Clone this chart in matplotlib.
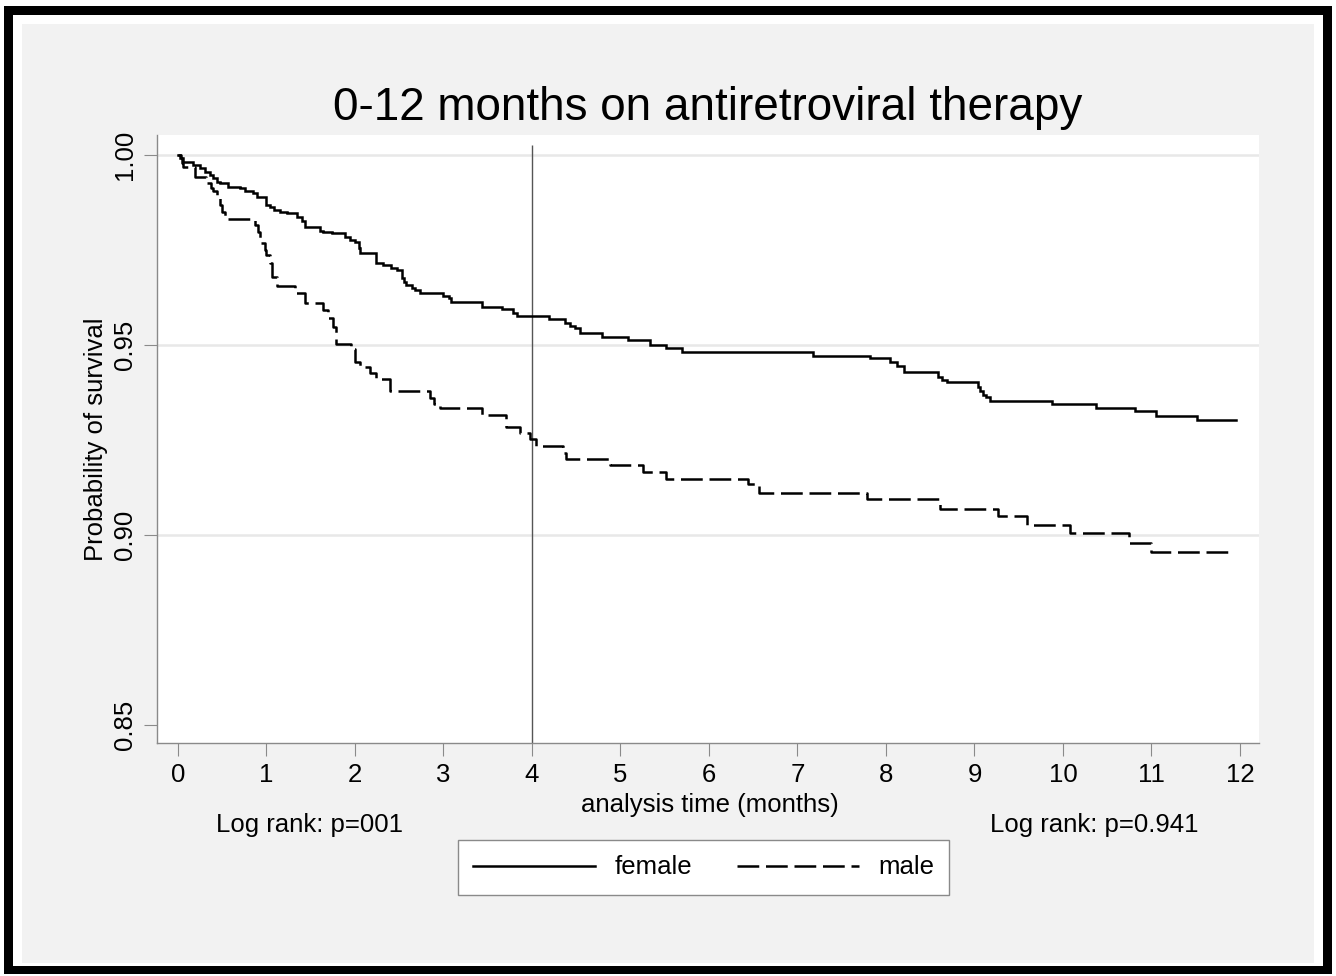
import matplotlib
matplotlib.use("Agg")
import matplotlib.pyplot as plt
from matplotlib.patches import Rectangle

# ---- data ----
female_t = [0.00, 0.02, 0.06, 0.17, 0.25, 0.30, 0.36, 0.40, 0.44, 0.48, 0.57, 0.70, 0.76, 0.85, 0.89,
            1.00, 1.04, 1.08, 1.15, 1.23, 1.34, 1.40, 1.44, 1.61, 1.64, 1.74, 1.89, 1.94, 2.00, 2.04,
            2.06, 2.24, 2.32, 2.41, 2.47, 2.53, 2.55, 2.58, 2.64, 2.68, 2.73, 3.00, 3.06, 3.09, 3.43,
            3.66, 3.79, 3.83, 4.19, 4.37, 4.43, 4.49, 4.54, 4.79, 5.09, 5.33, 5.52, 5.69, 7.18, 7.82,
            8.05, 8.12, 8.20, 8.59, 8.63, 8.69, 9.04, 9.06, 9.10, 9.13, 9.18, 9.88, 10.37, 10.81,
            11.05, 11.51]
female_s = [1.0000, 0.9991, 0.9982, 0.9974, 0.9965, 0.9956, 0.9947, 0.9939, 0.9930, 0.9925, 0.9917,
            0.9912, 0.9904, 0.9899, 0.9890, 0.9868, 0.9864, 0.9855, 0.9851, 0.9847, 0.9838, 0.9827,
            0.9811, 0.9801, 0.9798, 0.9794, 0.9785, 0.9776, 0.9772, 0.9754, 0.9741, 0.9717, 0.9711,
            0.9702, 0.9697, 0.9675, 0.9667, 0.9658, 0.9649, 0.9645, 0.9636, 0.9629, 0.9623, 0.9614,
            0.9601, 0.9595, 0.9583, 0.9575, 0.9568, 0.9559, 0.9551, 0.9544, 0.9531, 0.9522, 0.9513,
            0.9500, 0.9491, 0.9482, 0.9471, 0.9465, 0.9456, 0.9445, 0.9430, 0.9417, 0.9408, 0.9402,
            0.9390, 0.9380, 0.9368, 0.9364, 0.9353, 0.9345, 0.9333, 0.9325, 0.9313, 0.9303]
female_end = 11.95

male_t = [0.00, 0.03, 0.05, 0.06, 0.19, 0.32, 0.37, 0.40, 0.44, 0.48, 0.50, 0.53, 0.87, 0.90, 0.93,
          0.98, 1.00, 1.04, 1.06, 1.12, 1.32, 1.44, 1.64, 1.70, 1.75, 1.79, 1.95, 2.00, 2.06, 2.17,
          2.24, 2.40, 2.85, 2.89, 2.96, 3.43, 3.71, 3.86, 3.98, 4.05, 4.35, 4.39, 4.88, 5.26, 5.52,
          6.44, 6.56, 7.78, 8.61, 9.27, 9.59, 10.08, 10.75, 11.00]
male_s = [1.0000, 0.9991, 0.9980, 0.9969, 0.9943, 0.9925, 0.9912, 0.9904, 0.9890, 0.9868, 0.9851,
          0.9831, 0.9815, 0.9798, 0.9768, 0.9750, 0.9737, 0.9715, 0.9680, 0.9654, 0.9638, 0.9610,
          0.9592, 0.9570, 0.9548, 0.9503, 0.9489, 0.9456, 0.9441, 0.9425, 0.9410, 0.9379, 0.9360,
          0.9345, 0.9333, 0.9316, 0.9283, 0.9268, 0.9252, 0.9235, 0.9215, 0.9199, 0.9184, 0.9167,
          0.9147, 0.9135, 0.9111, 0.9094, 0.9068, 0.9050, 0.9026, 0.9004, 0.8978, 0.8956]
male_end = 11.89

x_ticks = list(range(0, 13))
y_ticks = [0.85, 0.90, 0.95, 1.00]
y_ticklabels = ["0.85", "0.90", "0.95", "1.00"]
grid_vals = [0.90, 0.95, 1.00]
marker_time = 4

title = "0-12 months on antiretroviral therapy"
xlabel = "analysis time (months)"
ylabel = "Probability of survival"
note_left = "Log rank: p=001"
note_right = "Log rank: p=0.941"
series_names = ["female", "male"]

# ---- layout ----
W, H = 1336, 976
plt.rcParams["font.family"] = ["Liberation Sans", "DejaVu Sans"]
FS = 18.5

fig = plt.figure(figsize=(W / 100, H / 100), dpi=100, facecolor="white")


def fx(px):
    return px / W


def fy(py):
    return 1 - py / H


def frect(x0, y0, x1, y1, color):
    fig.patches.append(Rectangle((fx(x0), fy(y1)), fx(x1) - fx(x0), fy(y0) - fy(y1),
                                 transform=fig.transFigure, facecolor=color,
                                 edgecolor="none", zorder=-10))


frect(4, 6, 1332, 974, "black")
frect(13, 15, 1323, 966, "white")
frect(22, 24, 1314, 963, "#f2f2f2")

L, R, T, B = 157, 1259, 135, 743
ax = fig.add_axes([fx(L), fy(B), fx(R) - fx(L), fy(T) - fy(B)])
ax.set_facecolor("white")
ax.set_xlim(-0.237, 12.215)
ax.set_ylim(0.84526, 1.00526)

for s in ["top", "right"]:
    ax.spines[s].set_visible(False)
for s in ["left", "bottom"]:
    ax.spines[s].set_color("#8a8a8a")
    ax.spines[s].set_linewidth(1.0)

for g in grid_vals:
    ax.axhline(g, color="#e8e8e8", lw=1.8, zorder=0)

ax.vlines(marker_time, ax.get_ylim()[0], 1.0026, color="#555555", lw=1.0, zorder=1)

lw = 1.8
ft = female_t + [female_end]
fs_ = female_s + [female_s[-1]]
mt = male_t + [male_end]
ms_ = male_s + [male_s[-1]]
l1, = ax.step(ft, fs_, where="post", color="black", lw=lw, solid_joinstyle="miter",
              label=series_names[0], zorder=3)
l2, = ax.step(mt, ms_, where="post", color="black", lw=lw, label=series_names[1],
              dashes=(8.7, 2.7), zorder=3)

ax.set_xticks(x_ticks)
ax.set_xticklabels([str(v) for v in x_ticks])
ax.set_yticks(y_ticks)
ax.set_yticklabels(y_ticklabels, rotation=90, va="center")
ax.tick_params(axis="both", direction="out", length=9.4, width=0.8, color="#8a8a8a",
               labelsize=FS, labelcolor="black")
ax.tick_params(axis="x", pad=5)
ax.tick_params(axis="y", pad=5)

fig.text(fx(708), fy(120), title, ha="center", va="baseline", fontsize=33)
fig.text(fx(710), fy(812), xlabel, ha="center", va="baseline", fontsize=FS)
fig.text(fx(96), fy(439), ylabel, ha="center", va="center", rotation=90, fontsize=FS)
fig.text(fx(309), fy(832), note_left, ha="center", va="baseline", fontsize=FS)
fig.text(fx(1094), fy(832), note_right, ha="center", va="baseline", fontsize=FS)

leg = fig.legend(handles=[l1, l2], labels=series_names, loc="center",
                 bbox_to_anchor=(fx(703.5), fy(867.5)), ncol=2, fontsize=FS,
                 handlelength=4.75, handletextpad=0.74, columnspacing=1.75,
                 borderpad=0.6, fancybox=False, framealpha=1, edgecolor="#8a8a8a")
leg.get_frame().set_linewidth(1.0)
leg.get_frame().set_facecolor("white")

fig.savefig("out.png", dpi=100, facecolor="white")
